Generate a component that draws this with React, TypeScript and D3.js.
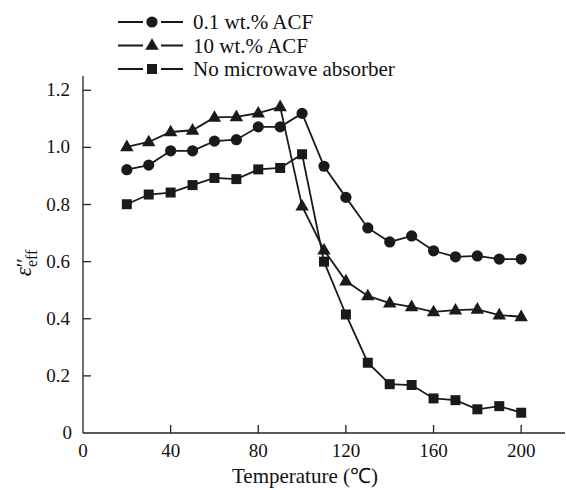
import React, { useRef, useEffect } from 'react';
import * as d3 from 'd3';

const temps = [20, 30, 40, 50, 60, 70, 80, 90, 100, 110, 120, 130, 140, 150, 160, 170, 180, 190, 200];
const acf01 = [0.922, 0.938, 0.988, 0.988, 1.022, 1.027, 1.072, 1.072, 1.119, 0.934, 0.825, 0.718, 0.669, 0.69, 0.638, 0.617, 0.62, 0.609, 0.609];
const acf10 = [1.002, 1.019, 1.054, 1.06, 1.105, 1.107, 1.12, 1.142, 0.794, 0.64, 0.532, 0.48, 0.455, 0.442, 0.424, 0.43, 0.433, 0.413, 0.407];
const noAbs = [0.801, 0.835, 0.842, 0.868, 0.893, 0.889, 0.923, 0.928, 0.976, 0.6, 0.415, 0.246, 0.171, 0.168, 0.121, 0.115, 0.083, 0.094, 0.071];
const xTicks = [0, 40, 80, 120, 160, 200];
const yTicks = [0, 0.2, 0.4, 0.6, 0.8, 1.0, 1.2];
const seriesNames = ['0.1 wt.% ACF', '10 wt.% ACF', 'No microwave absorber'];
const seriesShapes = ['circle', 'triangle', 'square'];

const W = 566, H = 490;
const font = '"Liberation Serif", "Times New Roman", serif';

const App = () => {
  const ref = useRef<SVGSVGElement>(null);

  useEffect(() => {
    if (!ref.current) return;
    const svg = d3.select(ref.current);
    svg.selectAll('*').remove();

    const x = d3.scaleLinear().domain([0, 220]).range([83, 565]);
    const y = d3.scaleLinear().domain([0, 1.25]).range([433, 76]);

    const marker = (g: any, shape: string, cx: number, cy: number) => {
      if (shape === 'circle') {
        g.append('circle').attr('cx', cx).attr('cy', cy).attr('r', 5.6).attr('fill', '#1a1a1a');
      } else if (shape === 'triangle') {
        g.append('path')
          .attr('d', d3.symbol(d3.symbolTriangle, 78)())
          .attr('transform', `translate(${cx},${cy + 0.5})`)
          .attr('fill', '#1a1a1a');
      } else {
        g.append('rect').attr('x', cx - 5).attr('y', cy - 5).attr('width', 10).attr('height', 10).attr('fill', '#1a1a1a');
      }
    };

    // axes
    const ax = svg.append('g').attr('stroke', '#222').attr('stroke-width', 1.3);
    ax.append('line').attr('x1', x(0)).attr('x2', x(220)).attr('y1', y(0)).attr('y2', y(0));
    ax.append('line').attr('x1', x(0)).attr('x2', x(0)).attr('y1', y(0)).attr('y2', y(1.25));
    xTicks.slice(1).forEach(t => {
      ax.append('line').attr('x1', x(t)).attr('x2', x(t)).attr('y1', y(0)).attr('y2', y(0) - 8);
    });
    yTicks.slice(1).forEach(t => {
      ax.append('line').attr('x1', x(0)).attr('x2', x(0) + 8).attr('y1', y(t)).attr('y2', y(t));
    });

    const txt = svg.append('g').style('font-family', font).style('font-size', '19px').attr('fill', '#111');
    xTicks.forEach(t => {
      txt.append('text').attr('x', x(t)).attr('y', 457).attr('text-anchor', 'middle').text(String(t));
    });
    yTicks.forEach(t => {
      txt.append('text').attr('x', t === 0 ? 72 : 70).attr('y', y(t) + 6).attr('text-anchor', 'end')
        .text(t === 0 ? '0' : t.toFixed(1));
    });
    txt.append('text').attr('x', 305).attr('y', 483).attr('text-anchor', 'middle').style('font-size', '21px')
      .text('Temperature (℃)');

    // y label
    const yl = svg.append('text').attr('transform', 'translate(31,263) rotate(-90)')
      .attr('text-anchor', 'middle').style('font-family', font).attr('fill', '#111');
    yl.append('tspan').style('font-size', '23px').style('font-style', 'italic').text('ε');
    yl.append('tspan').style('font-size', '21px').text('′′');
    yl.append('tspan').style('font-size', '16px').attr('dy', 6).attr('dx', -9).text('eff');

    // series
    const data = [acf01, acf10, noAbs];
    const line = d3.line<number>().x((_, i) => x(temps[i])).y(d => y(d));
    data.forEach((vals, s) => {
      const g = svg.append('g');
      g.append('path').attr('d', line(vals)).attr('fill', 'none').attr('stroke', '#1a1a1a').attr('stroke-width', 1.8);
      vals.forEach((v, i) => marker(g, seriesShapes[s], x(temps[i]), y(v)));
    });

    // legend
    const lg = svg.append('g');
    seriesNames.forEach((name, i) => {
      const ly = 22 + i * 23.5;
      lg.append('line').attr('x1', 118).attr('x2', 183).attr('y1', ly).attr('y2', ly).attr('stroke', '#1a1a1a').attr('stroke-width', 1.8);
      lg.append('rect').attr('x', 143).attr('y', ly - 8).attr('width', 18).attr('height', 16).attr('fill', '#fff');
      marker(lg, seriesShapes[i], 152, ly);
      lg.append('text').attr('x', 193).attr('y', ly + 7).style('font-family', font).style('font-size', '21px')
        .attr('fill', '#111').text(name);
    });
  }, []);

  return <svg ref={ref} width={W} height={H} style={{ position: 'absolute', left: 0, top: 0, background: '#fff' }} />;
};

export default App;
